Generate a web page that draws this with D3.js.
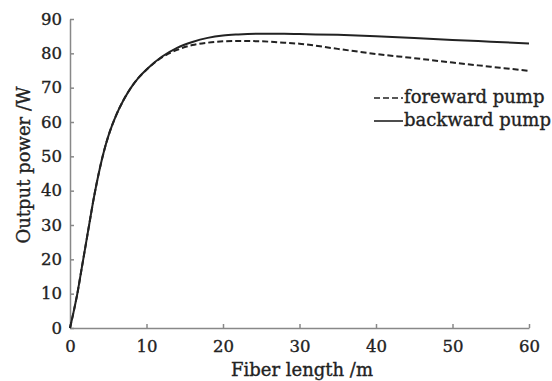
<!DOCTYPE html>
<html><head><meta charset="utf-8">
<script src="https://cdn.jsdelivr.net/npm/d3@7"></script>
<style>body{margin:0;background:#fff}svg{display:block}text{font-family:"DejaVu Serif",serif;fill:#222}</style>
</head><body><svg id="c" width="552" height="381"></svg>
<script>
const fiberLength = [0,0.5,1,1.5,2,2.5,3,3.5,4,4.5,5,5.5,6,7,8,9,10,12,14,16,18,20,22,25,28,30,35,40,45,50,55,60];
const backwardPump = [0,5,10.5,17,23.5,30,36.5,42.3,47.5,52,55.8,59,61.8,66.4,70.1,73.0,75.3,79.0,81.6,83.3,84.5,85.2,85.5,85.7,85.7,85.6,85.4,85.0,84.5,83.9,83.4,82.9];
const forewardPump = [0,5,10.5,17,23.5,30,36.5,42.3,47.5,52,55.8,59,61.8,66.4,70.1,73.0,75.2,78.8,81.0,82.4,83.1,83.5,83.6,83.5,83.1,82.8,81.3,79.8,78.6,77.3,76.1,74.9];
const xTicks = [0,10,20,30,40,50,60];
const yTicks = [0,10,20,30,40,50,60,70,80,90];
const legendLabels = ["foreward pump","backward pump"];

const svg = d3.select("#c");
const x = d3.scaleLinear().domain([0,60]).range([70,529]);
const y = d3.scaleLinear().domain([0,90]).range([328,19]);
const axisColor = "#888";

const gx = svg.append("g").attr("transform","translate(0,328)")
  .call(d3.axisBottom(x).tickValues(xTicks).tickSizeInner(-4).tickSizeOuter(0).tickPadding(8));
const gy = svg.append("g").attr("transform","translate(70,0)")
  .call(d3.axisLeft(y).tickValues(yTicks).tickSizeInner(-4).tickSizeOuter(0).tickPadding(8));
[gx,gy].forEach(g=>{
  g.selectAll("path,line").attr("stroke",axisColor).attr("stroke-width",1.5);
  g.selectAll("text").attr("font-size",16.5).attr("font-family",'"DejaVu Serif",serif')
    .attr("fill","#222").attr("stroke","#222").attr("stroke-width",0.35);
});
gx.selectAll("text").attr("dy","0.95em");

const line = d3.line().x((d,i)=>x(fiberLength[i])).y(d=>y(d)).curve(d3.curveMonotoneX);
svg.append("path").attr("d",line(forewardPump)).attr("fill","none").attr("stroke","#222").attr("stroke-width",2).attr("stroke-dasharray","6,3");
svg.append("path").attr("d",line(backwardPump)).attr("fill","none").attr("stroke","#222").attr("stroke-width",2);

const txt = (sel)=>sel.attr("font-size",18).attr("stroke","#222").attr("stroke-width",0.35);
txt(svg.append("text").attr("x",302).attr("y",376).attr("text-anchor","middle").text("Fiber length /m"));
txt(svg.append("text").attr("transform","translate(30,165) rotate(-90)").attr("text-anchor","middle").text("Output power /W"));

const leg = svg.append("g");
legendLabels.forEach((lab,i)=>{
  const yy = 98 + i*23;
  leg.append("line").attr("x1",374).attr("x2",403).attr("y1",yy).attr("y2",yy)
    .attr("stroke","#222").attr("stroke-width",1.6).attr("stroke-dasharray",i===0?"6,3":null);
  txt(leg.append("text").attr("x",404).attr("y",yy+5).text(lab));
});
</script></body></html>
